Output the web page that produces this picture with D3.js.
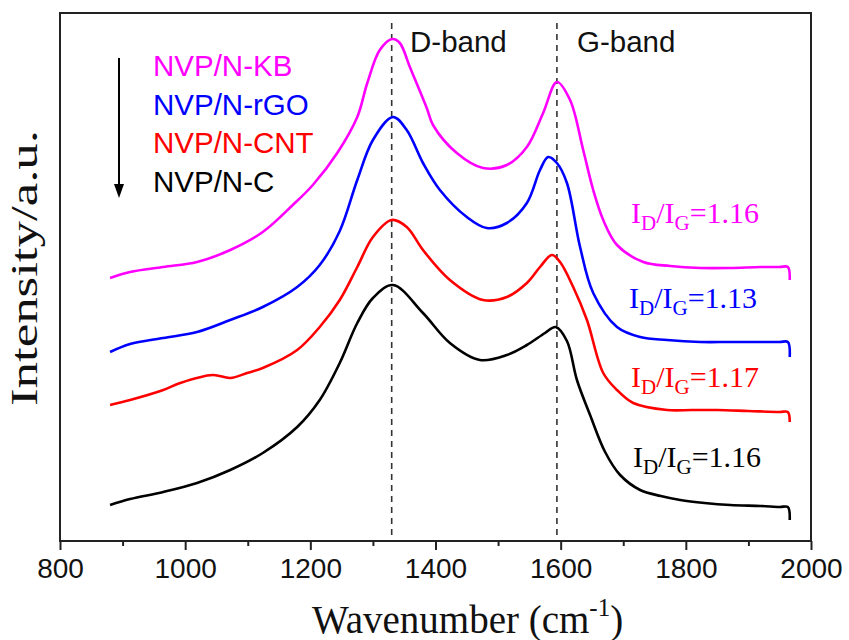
<!DOCTYPE html>
<html>
<head>
<meta charset="utf-8">
<script src="https://cdn.jsdelivr.net/npm/d3@7"></script>
<style>
  html, body { margin: 0; padding: 0; background: #fff; }
  svg { display: block; }
</style>
</head>
<body>
<svg id="chart" width="849" height="640"></svg>
<script>
// Raman spectra, stacked with vertical offsets (wavenumber in cm-1, intensity in a.u.)
const wavenumbersKB  = [880, 912, 965, 1019, 1072, 1124, 1172, 1204, 1243, 1275, 1291, 1311, 1331, 1343, 1359, 1386, 1396, 1434, 1476, 1514, 1546, 1572, 1594, 1615, 1636, 1652, 1668, 1690, 1732, 1775, 1823, 1870, 1920, 1950, 1963, 1966];
const intensityKB    = [263, 269, 274, 279, 291, 309, 336, 356, 388, 424, 458, 491, 502, 498, 474, 433, 416, 388, 373, 376, 394, 428, 459, 441, 391, 351, 321, 296, 279, 275, 273, 273, 274, 274, 274, 261];

const wavenumbersRGO = [880, 912, 965, 1019, 1072, 1124, 1179, 1215, 1247, 1275, 1300, 1332, 1354, 1380, 1407, 1450, 1482, 1514, 1546, 1567, 1580, 1594, 1610, 1631, 1652, 1690, 1727, 1770, 1823, 1870, 1920, 1950, 1963, 1966];
const intensityRGO   = [189, 197, 203, 209, 221, 234, 254, 276, 310, 361, 401, 424, 411, 378, 351, 324, 313, 318, 338, 371, 384, 378, 358, 294, 248, 214, 204, 201, 199, 199, 199, 199, 199, 184];

const wavenumbersCNT = [880, 912, 965, 992, 1044, 1072, 1099, 1124, 1179, 1215, 1247, 1275, 1300, 1330, 1354, 1380, 1423, 1476, 1514, 1546, 1567, 1586, 1599, 1620, 1642, 1668, 1690, 1716, 1770, 1810, 1850, 1900, 1950, 1963, 1966];
const intensityCNT   = [136, 141, 151, 158, 166, 163, 168, 173, 191, 214, 241, 274, 304, 321, 314, 291, 261, 241, 244, 258, 274, 286, 279, 254, 221, 168, 151, 138, 131, 131, 131, 130, 129, 129, 119];

const wavenumbersC   = [880, 912, 965, 1019, 1072, 1124, 1179, 1215, 1247, 1275, 1300, 1332, 1380, 1423, 1471, 1514, 1546, 1575, 1592, 1610, 1626, 1647, 1671, 1695, 1727, 1760, 1791, 1830, 1871, 1920, 1950, 1963, 1966];
const intensityC     = [36, 42, 49, 58, 71, 88, 114, 141, 178, 218, 243, 256, 228, 198, 181, 186, 196, 208, 214, 200, 161, 126, 89, 66, 51, 45, 41, 38, 36, 35, 34, 34, 21];

const seriesNames  = ["NVP/N-KB", "NVP/N-rGO", "NVP/N-CNT", "NVP/N-C"];
const seriesColors = ["#ff00ff", "#0000ff", "#ff0000", "#000000"];
const ratioLabels  = ["1.16", "1.13", "1.17", "1.16"];

const bandNames     = ["D-band", "G-band"];
const bandPositions = [1330, 1594];

const xTicks      = [800, 1000, 1200, 1400, 1600, 1800, 2000];
const xMinorTicks = [900, 1100, 1300, 1500, 1700, 1900];

const svg = d3.select("#chart");
const plot = { left: 60, right: 811, top: 13, bottom: 541 };

const x = d3.scaleLinear().domain([800, 2000]).range([plot.left, plot.right]);
const y = d3.scaleLinear().domain([0, 528]).range([plot.bottom, plot.top]);

const series = [
  { w: wavenumbersKB,  v: intensityKB },
  { w: wavenumbersRGO, v: intensityRGO },
  { w: wavenumbersCNT, v: intensityCNT },
  { w: wavenumbersC,   v: intensityC }
];

// band position markers
svg.append("g").selectAll("line")
  .data(bandPositions).join("line")
  .attr("x1", d => x(d)).attr("x2", d => x(d))
  .attr("y1", 23).attr("y2", plot.bottom)
  .attr("stroke", "#333").attr("stroke-width", 1.6)
  .attr("stroke-dasharray", "6,5");

// spectra
const line = d3.line()
  .x(d => x(d[0])).y(d => y(d[1]))
  .curve(d3.curveCatmullRom.alpha(0.5));

svg.append("g").selectAll("path")
  .data(series).join("path")
  .attr("d", s => line(s.w.map((w, i) => [w, s.v[i]])))
  .attr("fill", "none")
  .attr("stroke", (s, i) => seriesColors[i])
  .attr("stroke-width", 2.6)
  .attr("stroke-linejoin", "round");

// frame
svg.append("rect")
  .attr("x", plot.left).attr("y", plot.top)
  .attr("width", plot.right - plot.left).attr("height", plot.bottom - plot.top)
  .attr("fill", "none").attr("stroke", "#222").attr("stroke-width", 2);

// x axis
const xAxis = d3.axisBottom(x).tickValues(xTicks).tickSize(9).tickPadding(8).tickFormat(d3.format("d"));
const gx = svg.append("g").attr("transform", `translate(0,${plot.bottom})`).call(xAxis);
gx.select(".domain").remove();
gx.selectAll(".tick line").attr("stroke", "#222").attr("stroke-width", 2);
gx.selectAll(".tick text")
  .attr("font-family", "Liberation Sans, Arial, sans-serif")
  .attr("font-size", 28).attr("fill", "#111");

const xMinor = d3.axisBottom(x).tickValues(xMinorTicks).tickSize(5).tickFormat("");
const gxm = svg.append("g").attr("transform", `translate(0,${plot.bottom})`).call(xMinor);
gxm.select(".domain").remove();
gxm.selectAll(".tick line").attr("stroke", "#222").attr("stroke-width", 2);

// axis titles
const xTitle = svg.append("text")
  .attr("x", 312).attr("y", 633)
  .attr("font-family", "Liberation Serif, Times New Roman, serif")
  .attr("font-size", 39).attr("fill", "#111");
xTitle.append("tspan").text("Wavenumber (cm");
xTitle.append("tspan").attr("font-size", 25).attr("dy", -17).text("-1");
xTitle.append("tspan").attr("dy", 17).text(")");

svg.append("text")
  .attr("transform", "translate(37,268) rotate(-90)")
  .attr("text-anchor", "middle")
  .attr("font-family", "Liberation Serif, Times New Roman, serif")
  .attr("font-size", 37).attr("fill", "#111")
  .attr("textLength", 276).attr("lengthAdjust", "spacingAndGlyphs")
  .text("Intensity/a.u.");

// band labels
const bandLabelX = [410, 577];
svg.append("g").selectAll("text")
  .data(bandNames).join("text")
  .attr("x", (d, i) => bandLabelX[i]).attr("y", 52)
  .attr("font-family", "Liberation Sans, Arial, sans-serif")
  .attr("font-size", 29.5).attr("fill", "#111")
  .text(d => d);

// legend with order arrow
const legendY = [76, 115, 153, 192];
svg.append("g").selectAll("text")
  .data(seriesNames).join("text")
  .attr("x", 153).attr("y", (d, i) => legendY[i])
  .attr("font-family", "Liberation Sans, Arial, sans-serif")
  .attr("font-size", 29.5)
  .attr("fill", (d, i) => seriesColors[i])
  .text(d => d);

svg.append("line")
  .attr("x1", 119).attr("x2", 119).attr("y1", 58).attr("y2", 186)
  .attr("stroke", "#000").attr("stroke-width", 2);
svg.append("path")
  .attr("d", "M114,184 L124,184 L119,198 Z")
  .attr("fill", "#000");

// I_D/I_G ratio labels
const ratioX = [631, 629, 631, 633];
const ratioY = [223, 308, 387, 467];
ratioLabels.forEach((r, i) => {
  const t = svg.append("text")
    .attr("x", ratioX[i]).attr("y", ratioY[i])
    .attr("font-family", "Liberation Serif, Times New Roman, serif")
    .attr("font-size", 30).attr("fill", seriesColors[i]);
  t.append("tspan").text("I");
  t.append("tspan").attr("font-size", 21).attr("dy", 7).text("D");
  t.append("tspan").attr("dy", -7).text("/I");
  t.append("tspan").attr("font-size", 21).attr("dy", 7).text("G");
  t.append("tspan").attr("dy", -7).text("=" + r);
});
</script>
</body>
</html>
